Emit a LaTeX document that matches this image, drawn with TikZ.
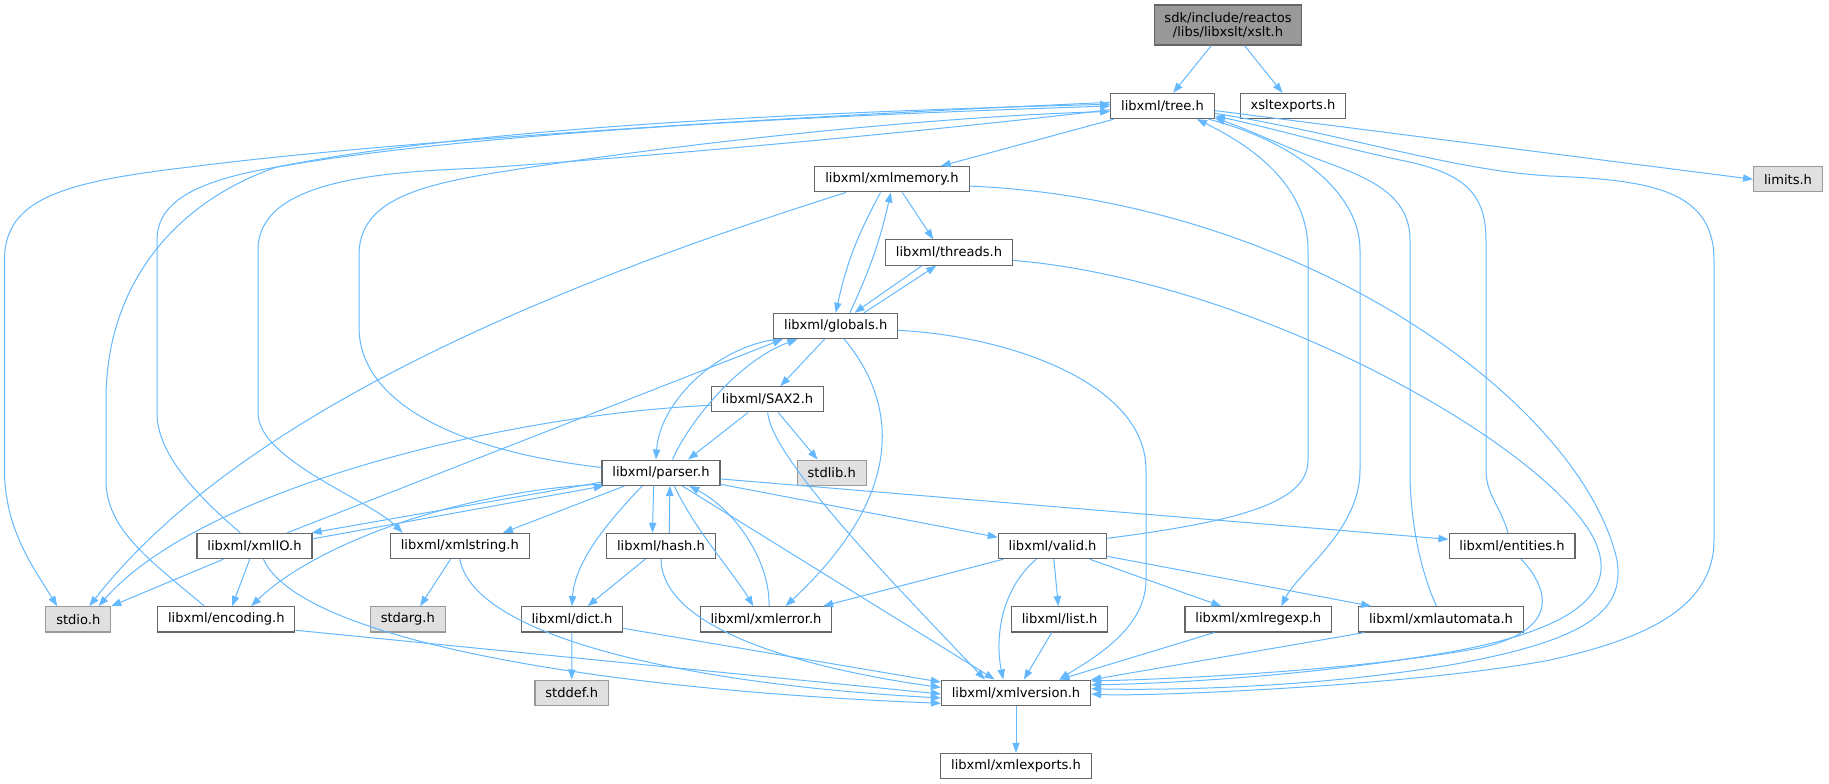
\documentclass[tikz,border=0pt]{standalone}
\usepackage{fontspec}
\setmainfont{DejaVu Sans}
\usetikzlibrary{arrows.meta}
\definecolor{edgeblue}{HTML}{63B8FF}
\definecolor{boxline}{HTML}{666666}
\definecolor{sysline}{HTML}{999999}
\definecolor{sysfill}{HTML}{E0E0E0}
\definecolor{mainfill}{HTML}{999999}

\begin{document}
\begin{tikzpicture}[x=0.75pt, y=-0.75pt,
  file/.style={draw=boxline, fill=white, line width=0.8pt, inner xsep=7.8pt,
    inner ysep=0pt, minimum height=19pt, font=\fontsize{9.8}{10.7}\selectfont},
  sysfile/.style={file, draw=sysline, fill=sysfill},
  mainfile/.style={file, fill=mainfill, align=center, minimum height=30pt},
  dep/.style={->, draw=edgeblue, line width=0.75pt},
  >={Triangle[length=7.5pt,width=5.5pt]}]
\useasboundingbox (0,0) rectangle (1829,784);

% Files
\node[mainfile] (xslt-h) at (1228,25) {sdk/include/reactos\\/libs/libxslt/xslt.h};
\node[file] (tree-h) at (1162.5,106) {libxml/tree.h};
\node[file] (xsltexports-h) at (1293,106) {xsltexports.h};
\node[sysfile] (limits-h) at (1788,179.3) {limits.h};
\node[file] (xmlmemory-h) at (892,179.3) {libxml/xmlmemory.h};
\node[file] (threads-h) at (949,252.5) {libxml/threads.h};
\node[file] (globals-h) at (835.7,326) {libxml/globals.h};
\node[file] (sax2-h) at (767.6,399.3) {libxml/SAX2.h};
\node[sysfile] (stdlib-h) at (831.7,472.7) {stdlib.h};
\node[file] (parser-h) at (661,472.7) {libxml/parser.h};
\node[file] (xmlio-h) at (254.5,546) {libxml/xmlIO.h};
\node[file] (xmlstring-h) at (459.8,546) {libxml/xmlstring.h};
\node[file] (hash-h) at (661,546) {libxml/hash.h};
\node[file] (valid-h) at (1052.6,546) {libxml/valid.h};
\node[file] (entities-h) at (1512,546) {libxml/entities.h};
\node[sysfile] (stdio-h) at (78.3,619.3) {stdio.h};
\node[file] (encoding-h) at (226.3,619.3) {libxml/encoding.h};
\node[sysfile] (stdarg-h) at (407.8,619.3) {stdarg.h};
\node[file] (dict-h) at (571.9,619.3) {libxml/dict.h};
\node[file] (xmlerror-h) at (766,619.3) {libxml/xmlerror.h};
\node[file] (list-h) at (1059.6,619.3) {libxml/list.h};
\node[file] (xmlregexp-h) at (1258.3,619.3) {libxml/xmlregexp.h};
\node[file] (xmlautomata-h) at (1441,619.3) {libxml/xmlautomata.h};
\node[sysfile] (stddef-h) at (571.7,692.7) {stddef.h};
\node[file] (xmlversion-h) at (1016,692.7) {libxml/xmlversion.h};
\node[file] (xmlexports-h) at (1016,766) {libxml/xmlexports.h};

% xslt.h
\draw[dep] (xslt-h) -- (tree-h);
\draw[dep] (xslt-h) -- (xsltexports-h);

% tree.h
\draw[dep] (tree-h.-5) -- (limits-h.west);
\draw[dep] (tree-h) -- (xmlmemory-h);
\draw[dep] (tree-h.176) .. controls (800,116) and (400,140) .. (190,167) .. controls (60,182) and (4.5,200) .. (4.5,260) -- (4.5,470) .. controls (4.5,530) and (35,570) .. (stdio-h.148);
\draw[dep] (tree-h.184) .. controls (900,135) and (600,160) .. (482,168) .. controls (380,172) and (258,180) .. (258,250) -- (258,413) .. controls (258,460) and (370,500) .. (xmlstring-h.167);
\draw[dep] (tree-h.-16) .. controls (1290,140) and (1360,190) .. (1360,250) -- (1360,470) .. controls (1360,530) and (1300,570) .. (xmlregexp-h.30);
\draw[dep] (tree-h.-8) .. controls (1350,135) and (1450,170) .. (1550,176) .. controls (1650,180) and (1714,190) .. (1714,260) -- (1714,540) .. controls (1714,610) and (1640,640) .. (1550,660) .. controls (1420,685) and (1150,697) .. (xmlversion-h.-1);

% xmlmemory.h
\draw[dep] (xmlmemory-h.-52) -- (threads-h.140);
\draw[dep] (xmlmemory-h.229) to[bend right=8] (globals-h.north);
\draw[dep] (xmlmemory-h.196) .. controls (600,270) and (250,400) .. (stdio-h.50);
\draw[dep] (xmlmemory-h.-5) .. controls (1300,200) and (1580,400) .. (1617,560) .. controls (1625,610) and (1590,640) .. (1450,665) .. controls (1300,690) and (1150,690) .. (xmlversion-h.3);

% threads.h
\draw[dep] (threads-h.206) -- (globals-h.35);
\draw[dep] (threads-h.-7) .. controls (1250,280) and (1540,440) .. (1593,537) .. controls (1615,580) and (1600,625) .. (1450,652) .. controls (1300,678) and (1150,684) .. (xmlversion-h.6);

% globals.h
\draw[dep] (globals-h.43) to[bend right=6] (xmlmemory-h.265);
\draw[dep] (globals-h.25) -- (threads-h.226);
\draw[dep] (globals-h.230) -- (sax2-h.46);
\draw[dep] (globals-h.-57) .. controls (895,400) and (910,490) .. (xmlerror-h.34);
\draw[dep] (globals-h.193) .. controls (720,345) and (660,400) .. (parser-h.111);
\draw[dep] (globals-h.-4) .. controls (1000,335) and (1146,380) .. (1146,470) -- (1146,580) .. controls (1146,630) and (1090,660) .. (xmlversion-h.17);

% SAX2.h
\draw[dep] (sax2-h.186) .. controls (500,415) and (200,490) .. (stdio-h.33);
\draw[dep] (sax2-h.-51) -- (stdlib-h.137);
\draw[dep] (sax2-h.214) -- (parser-h.26);
\draw[dep] (sax2-h.south) .. controls (772,460) and (900,590) .. (xmlversion-h.157);

% parser.h
\draw[dep] (parser-h.175) .. controls (450,450) and (359,400) .. (359,327) -- (359,255) .. controls (359,200) and (420,185) .. (500,172) .. controls (700,140) and (950,116) .. (tree-h.186);
\draw[dep] (parser-h.49) .. controls (690,420) and (740,360) .. (globals-h.199);
\draw[dep] (parser-h.189) -- (xmlio-h.13);
\draw[dep] (parser-h.191) .. controls (470,490) and (320,540) .. (encoding-h.28);
\draw[dep] (parser-h.200) -- (xmlstring-h.17);
\draw[dep] (parser-h.215) .. controls (610,520) and (575,560) .. (dict-h.north);
\draw[dep] (parser-h.241) -- (hash-h.123);
\draw[dep] (parser-h.-45) .. controls (695,530) and (735,575) .. (xmlerror-h.134);
\draw[dep] (parser-h) -- (xmlversion-h);
\draw[dep] (parser-h.-11) -- (valid-h.171);
\draw[dep] (parser-h.-6) -- (entities-h.174);

% xmlIO.h
\draw[dep] (xmlio-h.137) .. controls (190,490) and (157,450) .. (157,413) -- (157,240) .. controls (157,200) and (200,180) .. (277,167) .. controls (500,128) and (900,113) .. (tree-h.180);
\draw[dep] (xmlio-h.22) -- (globals-h.194);
\draw[dep] (xmlio-h.7) -- (parser-h.193);
\draw[dep] (xmlio-h.203) -- (stdio-h.north east);
\draw[dep] (xmlio-h.250) -- (encoding-h.66);
\draw[dep] (xmlio-h.-56) .. controls (300,640) and (600,690) .. (xmlversion-h.188);

% encoding.h
\draw[dep] (encoding-h.149) .. controls (150,560) and (106,530) .. (106,480) -- (106,400) .. controls (106,280) and (180,200) .. (277,167) .. controls (500,122) and (900,110) .. (tree-h.178);
\draw[dep] (encoding-h.-9) -- (xmlversion-h.181);

% xmlstring.h, hash.h, dict.h, xmlerror.h
\draw[dep] (xmlstring-h.235) -- (stdarg-h.47);
\draw[dep] (xmlstring-h.south) .. controls (475,640) and (700,685) .. (xmlversion-h.184);
\draw[dep] (hash-h.58) -- (parser-h.-56);
\draw[dep] (hash-h.220) -- (dict-h.40);
\draw[dep] (hash-h.south) .. controls (662,640) and (850,675) .. (xmlversion-h.176);
\draw[dep] (dict-h) -- (stddef-h);
\draw[dep] (dict-h.-10) -- (xmlversion-h.172);
\draw[dep] (xmlerror-h.77) .. controls (770,560) and (735,510) .. (parser-h.-25);

% valid.h
\draw[dep] (valid-h.8) .. controls (1250,520) and (1308,500) .. (1308,460) -- (1308,250) .. controls (1308,190) and (1260,150) .. (tree-h.-21);
\draw[dep] (valid-h.195) -- (xmlerror-h.13);
\draw[dep] (valid-h.219) .. controls (1000,590) and (995,640) .. (xmlversion-h.134);
\draw[dep] (valid-h) -- (list-h);
\draw[dep] (valid-h) -- (xmlregexp-h);
\draw[dep] (valid-h) -- (xmlautomata-h);

% list.h, xmlregexp.h, xmlautomata.h, entities.h
\draw[dep] (list-h) -- (xmlversion-h);
\draw[dep] (xmlregexp-h) -- (xmlversion-h);
\draw[dep] (xmlautomata-h) -- (xmlversion-h);
\draw[dep] (xmlautomata-h.109) .. controls (1420,570) and (1410,520) .. (1410,470) -- (1410,240) .. controls (1410,195) and (1370,178) .. (1320,160) .. controls (1280,145) and (1250,130) .. (tree-h.-13);
\draw[dep] (entities-h.107) .. controls (1500,505) and (1486,495) .. (1486,470) -- (1486,240) .. controls (1486,190) and (1460,172) .. (1400,160) .. controls (1330,145) and (1260,125) .. (tree-h.-11);
\draw[dep] (entities-h.-55) .. controls (1550,590) and (1560,630) .. (1480,648) .. controls (1350,672) and (1150,680) .. (xmlversion-h.9);

% xmlversion.h
\draw[dep] (xmlversion-h) -- (xmlexports-h);

\end{tikzpicture}
\end{document}
